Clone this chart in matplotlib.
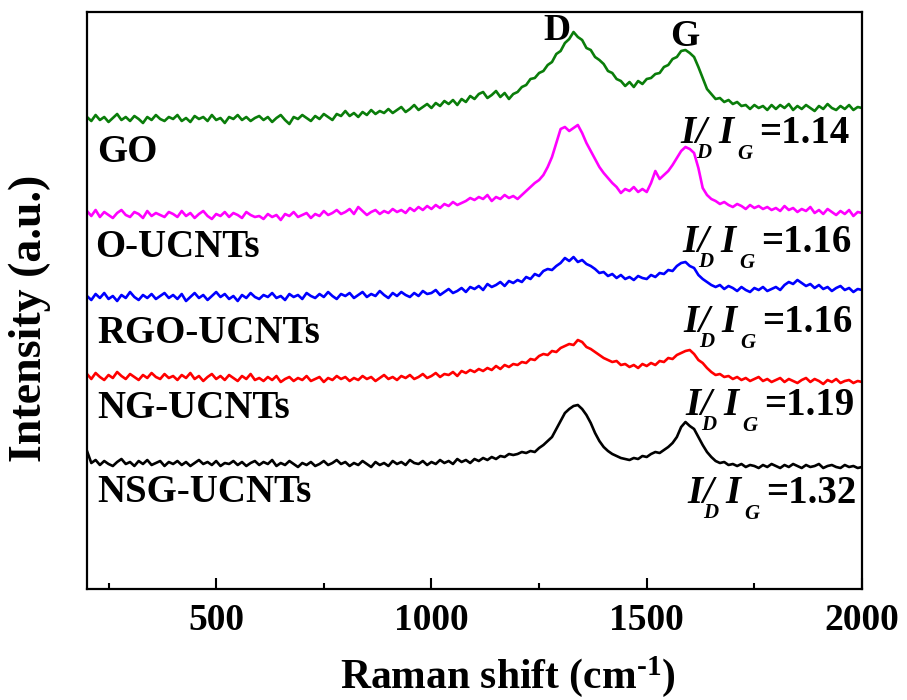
import numpy as np
import matplotlib
matplotlib.use("Agg")
import matplotlib.pyplot as plt

# ---------------- data ----------------
wavenumber = np.arange(200, 2001, 10)  # Raman shift grid (cm^-1)

sample_names = ["GO", "O-UCNTs", "RGO-UCNTs", "NG-UCNTs", "NSG-UCNTs"]
ratios = ["1.14", "1.16", "1.16", "1.19", "1.32"]
offsets = [492, 387, 310, 218, 133]  # vertical stacking offsets (a.u.)

go = [
    -9, -13, -7, -12, -9, -14, -10, -6, -12, -9, -13, -8, -11, -15, -9, -12, -7, -11, -13, -9,
    -11, -7, -13, -10, -14, -8, -11, -9, -13, -7, -12, -10, -15, -9, -11, -7, -12, -9, -13, -10,
    -8, -12, -9, -14, -10, -7, -12, -16, -9, -11, -7, -10, -13, -8, -11, -6, -9, -12, -6, -8,
    -3, -8, -5, -9, -4, -7, -2, -6, -3, -5, -1, -5, -2, 1, -4, -1, 3, -2, 1, 4,
    0, 5, 2, 7, 4, 8, 3, 9, 6, 12, 9, 14, 16, 10, 13, 17, 11, 15, 9, 14,
    16, 21, 23, 29, 30, 35, 37, 43, 46, 54, 57, 65, 69, 76, 71, 68, 60, 58, 51, 48,
    44, 37, 35, 29, 27, 22, 26, 21, 27, 24, 29, 30, 34, 35, 41, 43, 49, 51, 57, 58,
    55, 51, 41, 30, 19, 14, 9, 10, 6, 8, 4, 6, 2, 3, -1, 3, 0, 2, -2, 3,
    -1, 3, 0, 4, -2, 2, -1, 3, 0, -3, 2, -1, 4, 0, -2, 2, -1, 3, -2, 1,
    0]
o_ucnts = [
    2, -3, 3, -4, 1, -2, -5, 0, 3, -2, -4, 1, -1, -5, 2, -3, 0, -2, -4, 1,
    -1, -4, 2, -3, 0, -5, -1, 2, -3, -6, -1, -3, 1, -4, 0, -2, -5, 1, -2, -4,
    -3, -6, -1, -4, -2, -7, -1, -3, 1, -4, -2, 0, -5, -1, -3, 2, -2, 0, 3, -1,
    1, 4, -1, 6, 2, -2, 1, 3, -1, 2, 0, 4, 1, 3, 0, 5, 2, 6, 3, 7,
    4, 8, 5, 9, 7, 11, 8, 10, 12, 15, 13, 16, 14, 18, 12, 16, 14, 18, 15, 17,
    14, 18, 22, 26, 30, 33, 38, 46, 56, 70, 84, 86, 82, 85, 88, 80, 70, 62, 54, 46,
    40, 35, 30, 26, 20, 24, 22, 26, 21, 24, 21, 30, 42, 34, 38, 42, 48, 55, 62, 66,
    64, 60, 45, 25, 18, 14, 12, 9, 11, 8, 6, 9, 7, 4, 8, 5, 7, 4, 6, 3,
    5, 2, 7, 3, 5, 1, 4, 2, 6, 0, 3, -1, 4, 1, -2, 2, -1, 3, -3, 1,
    0]
rgo_ucnts = [
    -6, -10, -4, -8, -3, -9, -6, -11, -5, -8, -2, -7, -10, -5, -8, -4, -9, -6, -3, -8,
    -5, -9, -4, -11, -7, -3, -8, -5, -10, -6, -2, -7, -4, -9, -6, -11, -5, -8, -3, -7,
    -9, -5, -7, -3, -8, -6, -10, -4, -7, -5, -9, -3, -6, -8, -4, -7, -2, -6, -9, -4,
    -6, -3, -8, -5, -2, -7, -4, -6, -1, -5, -8, -3, -6, -2, -5, -7, -3, -6, -1, -4,
    -3, 0, -5, -2, 1, -3, -1, 2, -2, 3, 1, 4, 0, 6, 3, 5, 8, 4, 9, 7,
    10, 8, 13, 11, 16, 14, 19, 21, 20, 24, 27, 32, 29, 33, 28, 30, 26, 24, 21, 17,
    18, 14, 16, 12, 15, 11, 13, 10, 14, 12, 11, 15, 13, 17, 16, 20, 19, 24, 27, 28,
    24, 22, 15, 11, 8, 5, 3, 5, 1, 4, 2, -1, 3, 0, -2, 2, 0, 3, -1, 1,
    3, 0, 5, 8, 6, 10, 7, 4, 6, 2, 5, 1, 3, -1, 2, 4, 0, 2, -2, 1,
    0]
ng_ucnts = [
    8, 3, 9, 5, 2, 7, 4, 10, 6, 3, 8, 5, 2, 7, 4, 9, 5, 3, 8, 4,
    6, 2, 7, 4, 9, 3, 6, 1, 5, 8, 3, 6, 2, 7, 4, 1, 6, 3, 8, 2,
    4, 1, 5, 2, 6, 0, 3, 5, 1, 4, 2, 6, 1, 3, 5, 0, 4, 2, 6, 3,
    5, 1, 4, 2, 6, 3, 5, 1, 4, 7, 3, 5, 2, 6, 4, 7, 3, 5, 8, 4,
    6, 9, 5, 8, 7, 10, 6, 11, 9, 12, 10, 13, 11, 14, 12, 16, 13, 17, 15, 18,
    17, 20, 19, 23, 22, 26, 28, 27, 31, 30, 34, 36, 38, 37, 42, 40, 35, 33, 30, 27,
    24, 22, 20, 21, 17, 18, 15, 17, 14, 18, 16, 19, 17, 21, 20, 24, 23, 27, 29, 31,
    32, 28, 22, 19, 14, 10, 7, 8, 5, 6, 3, 5, 2, 4, 1, 3, 5, 1, 3, 0,
    2, 4, 0, 3, 1, -1, 2, 4, 0, 3, 1, -2, 2, 0, 3, -1, 1, 2, -1, 1,
    0]
nsg_ucnts = [
    16, 4, 7, 2, 6, 3, 1, 5, 8, 3, 5, 1, 6, 3, 7, 2, 4, 6, 1, 5,
    3, 6, 2, 5, 1, 4, 7, 3, 5, 2, 6, 1, 4, 3, 6, 2, 5, 1, 4, 6,
    2, 5, 3, 7, 1, 4, 2, 6, 3, 0, 4, 2, 5, 1, 3, 6, 2, 4, 7, 3,
    5, 1, 4, 2, 6, 3, 0, 5, 2, 4, 1, 6, 3, 5, 2, 7, 4, 3, 6, 2,
    5, 3, 7, 4, 6, 3, 8, 5, 7, 4, 8, 6, 9, 7, 10, 8, 11, 10, 13, 12,
    13, 15, 14, 16, 15, 19, 22, 26, 30, 38, 46, 54, 58, 61, 62, 58, 52, 44, 34, 26,
    20, 16, 13, 11, 9, 8, 7, 9, 8, 11, 10, 13, 15, 14, 17, 20, 24, 30, 40, 45,
    41, 38, 30, 22, 15, 10, 6, 4, 5, 2, 3, 1, 3, 0, 2, 1, -1, 2, 0, 3,
    1, -1, 2, 0, 3, 1, -1, 2, 0, 1, 3, -1, 1, 2, 0, -1, 2, 0, 1, -1,
    0]

spectra = [go, o_ucnts, rgo_ucnts, ng_ucnts, nsg_ucnts]
colors = ["#0a7d0a", "#ff00ff", "#0000ff", "#ff0000", "#000000"]

x_ticks = [500, 1000, 1500, 2000]
x_minor = [250, 750, 1250, 1750]

# ---------------- style ----------------
plt.rcParams["font.family"] = ["Liberation Serif", "DejaVu Serif"]
plt.rcParams["font.weight"] = "bold"
plt.rcParams["mathtext.fontset"] = "custom"
plt.rcParams["mathtext.rm"] = "Liberation Serif:bold"
plt.rcParams["mathtext.it"] = "Liberation Serif:italic:bold"
plt.rcParams["mathtext.bf"] = "Liberation Serif:bold"

W, H = 907, 700
fig = plt.figure(figsize=(W / 100, H / 100), dpi=100)
ax_l, ax_r, ax_t, ax_b = 87, 862, 12, 589
ax = fig.add_axes([ax_l / W, 1 - ax_b / H, (ax_r - ax_l) / W, (ax_b - ax_t) / H])

for vals, off, c in zip(spectra, offsets, colors):
    ax.plot(wavenumber, np.asarray(vals) + off, color=c, lw=1.9)

ax.set_xlim(200, 2000)
ax.set_ylim(11, 588)


def px2data(px, py):
    wx = 200 + (px - ax_l) * 1800 / (ax_r - ax_l)
    wy = 11 + (ax_b - py) * 577 / (ax_b - ax_t)
    return wx, wy


ax.set_xticks(x_ticks)
ax.set_xticks(x_minor, minor=True)
ax.set_yticks([])
ax.tick_params(axis="x", which="major", direction="in", length=8, width=1.5,
               labelsize=27, pad=10)
ax.tick_params(axis="x", which="minor", direction="in", length=4, width=1.5)
for lab in ax.get_xticklabels():
    lab.set_fontweight("bold")
for s in ax.spines.values():
    s.set_linewidth(1.6)

xl = ax.set_xlabel("Raman shift (cm$^{\\mathrm{\u20101}}$)", fontsize=30, fontweight="bold")
xl.set_va("center")
ax.xaxis.set_label_coords((508 - ax_l) / (ax_r - ax_l), (ax_b - 677) / (ax_b - ax_t))
yl = ax.set_ylabel("Intensity (a.u.)", fontsize=33, fontweight="bold")
yl.set_va("center")
ax.yaxis.set_label_coords((30 - ax_l) / (ax_r - ax_l), (ax_b - 318) / (ax_b - ax_t))

# sample labels (left, baseline in pixels)
label_pos = [(97, 162), (95, 257), (97, 343), (97, 418), (97, 502)]
for name, (lx, ly) in zip(sample_names, label_pos):
    wx, wy = px2data(lx, ly)
    ax.text(wx, wy, name, fontsize=28, fontweight="bold", va="baseline", ha="left")

# I_D/I_G labels: start x and main baseline in pixels
ratio_pos = [(680, 143), (682, 252), (683, 332), (685, 415), (687, 503)]
pieces = [("I", 0, 0, 28, "italic"), ("D", 16, 15, 15, "italic"),
          ("/", 15, 0, 28, "italic"), ("I", 38, 0, 28, "italic"),
          ("G", 57, 16, 15, "italic")]
for r, (rx, ry) in zip(ratios, ratio_pos):
    wx, wy = px2data(rx, ry)
    for txt, dx, dy, fs, st in pieces + [("=" + r, 79, 0, 28, "normal")]:
        ax.annotate(txt, xy=(wx, wy), xycoords="data",
                    xytext=(dx * 0.72, -dy * 0.72), textcoords="offset points",
                    fontsize=fs, fontstyle=st, fontweight="bold",
                    ha="left", va="baseline", annotation_clip=False)

# peak labels
dx_, dy_ = px2data(557, 31)
gx_, gy_ = px2data(685, 36)
ax.text(dx_, dy_, "D", fontsize=27, fontweight="bold", ha="center", va="center")
ax.text(gx_, gy_, "G", fontsize=27, fontweight="bold", ha="center", va="center")

fig.savefig("out.png", dpi=100)
